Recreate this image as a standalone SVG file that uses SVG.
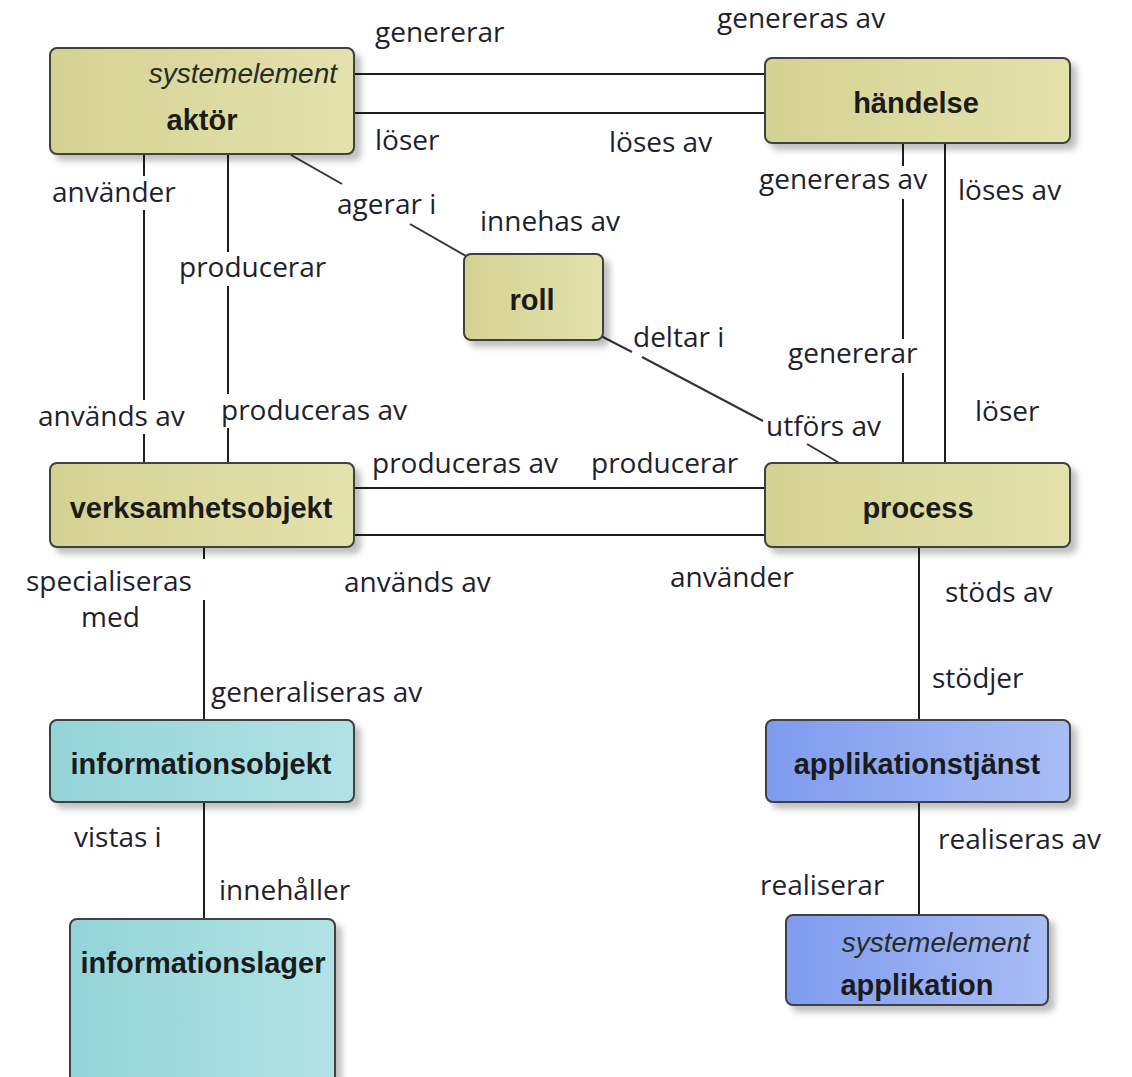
<svg xmlns="http://www.w3.org/2000/svg" width="1132" height="1077" viewBox="0 0 1132 1077">
  <style>
    .box { stroke: #3f3f3f; stroke-width: 2; }
    .name { font-family: "Liberation Sans", Arial, sans-serif; font-weight: bold; font-size: 29px; fill: #1b1b1b; text-anchor: middle; }
    .stereo { font-family: "Liberation Sans", Arial, sans-serif; font-style: italic; font-size: 28px; fill: #2a2a2a; text-anchor: end; }
    .conn { stroke: #1e1e1e; stroke-width: 2; fill: none; }
    .diag { stroke: #333; stroke-width: 2; fill: none; }
    .lbl { font-family: "Open Sans", "Liberation Sans", sans-serif; font-size: 28px; fill: #1f1f2e; }
    .mask { fill: #ffffff; }
  </style>
  <defs>
    <linearGradient id="khaki" x1="0" y1="0" x2="1" y2="0">
      <stop offset="0" stop-color="#d4d292"/>
      <stop offset="1" stop-color="#e3e2ad"/>
    </linearGradient>
    <linearGradient id="teal" x1="0" y1="0" x2="1" y2="0">
      <stop offset="0" stop-color="#94d4d8"/>
      <stop offset="1" stop-color="#b2e2e5"/>
    </linearGradient>
    <linearGradient id="blue" x1="0" y1="0" x2="1" y2="0">
      <stop offset="0" stop-color="#7e9bee"/>
      <stop offset="1" stop-color="#a9bdf5"/>
    </linearGradient>
    <filter id="shadow" x="-10%" y="-10%" width="125%" height="130%">
      <feDropShadow dx="6" dy="6" stdDeviation="3" flood-color="#000" flood-opacity="0.25"/>
    </filter>
  </defs>

  <rect width="1132" height="1077" fill="#ffffff"/>

  <!-- connectors -->
  <g id="connectors">
    <!-- aktör – händelse -->
    <line class="conn" x1="354" y1="74" x2="766" y2="74"/>
    <line class="conn" x1="354" y1="113" x2="766" y2="113"/>
    <!-- aktör – verksamhetsobjekt -->
    <line class="conn" x1="144" y1="154" x2="144" y2="464"/>
    <line class="conn" x1="228" y1="154" x2="228" y2="464"/>
    <!-- aktör – roll -->
    <line class="diag" x1="291" y1="155" x2="342" y2="184"/>
    <line class="diag" x1="410" y1="224" x2="466" y2="256"/>
    <!-- roll – process -->
    <line class="diag" x1="601" y1="336" x2="632" y2="352"/>
    <line class="diag" x1="642" y1="357" x2="763" y2="421"/>
    <line class="diag" x1="807" y1="444" x2="841" y2="464"/>
    <!-- händelse – process -->
    <line class="conn" x1="903" y1="143" x2="903" y2="464"/>
    <line class="conn" x1="945" y1="143" x2="945" y2="464"/>
    <!-- verksamhetsobjekt – process -->
    <line class="conn" x1="354" y1="488" x2="766" y2="488"/>
    <line class="conn" x1="354" y1="535" x2="766" y2="535"/>
    <!-- verksamhetsobjekt – informationsobjekt -->
    <line class="conn" x1="204" y1="547" x2="204" y2="559"/>
    <line class="conn" x1="204" y1="600" x2="204" y2="721"/>
    <!-- informationsobjekt – informationslager -->
    <line class="conn" x1="204" y1="802" x2="204" y2="920"/>
    <!-- process – applikationstjänst -->
    <line class="conn" x1="919" y1="547" x2="919" y2="721"/>
    <!-- applikationstjänst – applikation -->
    <line class="conn" x1="919" y1="802" x2="919" y2="916"/>
  </g>

  <!-- connector labels (white backing where a label sits on a line) -->
  <g id="labels">
    <rect class="mask" x="50" y="176" width="134" height="34"/>
    <rect class="mask" x="176" y="252" width="155" height="34"/>
    <rect class="mask" x="36" y="400" width="156" height="34"/>
    <rect class="mask" x="218" y="394" width="195" height="34"/>
    <rect class="mask" x="756" y="166" width="181" height="33"/>
    <rect class="mask" x="785" y="339" width="141" height="34"/>
    <text class="lbl" x="375" y="42">genererar</text>
    <text class="lbl" x="717" y="28">genereras av</text>
    <text class="lbl" x="375" y="150">löser</text>
    <text class="lbl" x="609" y="152">löses av</text>
    <text class="lbl" x="52" y="202">använder</text>
    <text class="lbl" x="337" y="214">agerar i</text>
    <text class="lbl" x="480" y="231">innehas av</text>
    <text class="lbl" x="759" y="189">genereras av</text>
    <text class="lbl" x="958" y="200">löses av</text>
    <text class="lbl" x="179" y="277">producerar</text>
    <text class="lbl" x="633" y="347">deltar i</text>
    <text class="lbl" x="788" y="363">genererar</text>
    <text class="lbl" x="38" y="426">används av</text>
    <text class="lbl" x="221" y="420">produceras av</text>
    <text class="lbl" x="766" y="436">utförs av</text>
    <text class="lbl" x="975" y="421">löser</text>
    <text class="lbl" x="372" y="473">produceras av</text>
    <text class="lbl" x="591" y="473">producerar</text>
    <text class="lbl" x="26" y="591">specialiseras</text>
    <text class="lbl" x="81" y="627">med</text>
    <text class="lbl" x="344" y="592">används av</text>
    <text class="lbl" x="670" y="587">använder</text>
    <text class="lbl" x="945" y="602">stöds av</text>
    <text class="lbl" x="211" y="702">generaliseras av</text>
    <text class="lbl" x="932" y="688">stödjer</text>
    <text class="lbl" x="74" y="847">vistas i</text>
    <text class="lbl" x="938" y="849">realiseras av</text>
    <text class="lbl" x="219" y="900">innehåller</text>
    <text class="lbl" x="760" y="895">realiserar</text>
  </g>

  <!-- nodes -->
  <g id="aktor">
    <rect class="box" x="50" y="48" width="304" height="106" rx="7" fill="url(#khaki)" filter="url(#shadow)"/>
    <text class="stereo" x="337" y="83">systemelement</text>
    <text class="name" x="202" y="130">aktör</text>
  </g>
  <g id="handelse">
    <rect class="box" x="765" y="58" width="305" height="85" rx="7" fill="url(#khaki)" filter="url(#shadow)"/>
    <text class="name" x="916" y="113">händelse</text>
  </g>
  <g id="roll">
    <rect class="box" x="464" y="254" width="139" height="86" rx="7" fill="url(#khaki)" filter="url(#shadow)"/>
    <text class="name" x="532" y="310">roll</text>
  </g>
  <g id="verksamhetsobjekt">
    <rect class="box" x="50" y="463" width="304" height="84" rx="7" fill="url(#khaki)" filter="url(#shadow)"/>
    <text class="name" x="201" y="518">verksamhetsobjekt</text>
  </g>
  <g id="process">
    <rect class="box" x="765" y="463" width="305" height="84" rx="7" fill="url(#khaki)" filter="url(#shadow)"/>
    <text class="name" x="918" y="518">process</text>
  </g>
  <g id="informationsobjekt">
    <rect class="box" x="50" y="720" width="304" height="82" rx="7" fill="url(#teal)" filter="url(#shadow)"/>
    <text class="name" x="201" y="774">informationsobjekt</text>
  </g>
  <g id="informationslager">
    <rect class="box" x="70" y="919" width="265" height="175" rx="7" fill="url(#teal)" filter="url(#shadow)"/>
    <text class="name" x="203" y="973">informationslager</text>
  </g>
  <g id="applikationstjanst">
    <rect class="box" x="766" y="720" width="304" height="82" rx="7" fill="url(#blue)" filter="url(#shadow)"/>
    <text class="name" x="917" y="774">applikationstjänst</text>
  </g>
  <g id="applikation">
    <rect class="box" x="786" y="915" width="262" height="90" rx="7" fill="url(#blue)" filter="url(#shadow)"/>
    <text class="stereo" x="1030" y="952">systemelement</text>
    <text class="name" x="917" y="995">applikation</text>
  </g>
</svg>
